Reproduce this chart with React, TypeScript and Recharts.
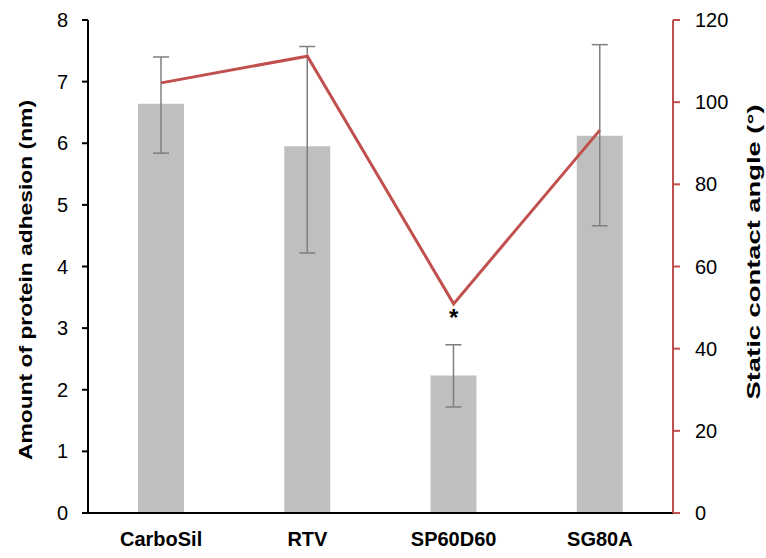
import React from 'react';
import { ComposedChart, Bar, Line, XAxis, YAxis, ErrorBar, LabelList } from 'recharts';

const categories = ['CarboSil', 'RTV', 'SP60D60', 'SG80A'];
const adhesion = [6.64, 5.95, 2.23, 6.12];
const adhesionErrLow = [0.8, 1.73, 0.51, 1.46];
const adhesionErrHigh = [0.76, 1.62, 0.5, 1.48];
const contactAngle = [104.7, 111.2, 50.9, 93.2];
const significance = ['', '', '*', ''];
const leftTicks = [0, 1, 2, 3, 4, 5, 6, 7, 8];
const rightTicks = [0, 20, 40, 60, 80, 100, 120];

const data = categories.map((name, i) => ({
  name,
  adhesion: adhesion[i],
  err: [adhesionErrLow[i], adhesionErrHigh[i]],
  angle: contactAngle[i],
  sig: significance[i],
}));

const FONT = '"Liberation Sans", Arial, sans-serif';
const RED = '#c0504d';

export default function App() {
  return (
    <div style={{ position: 'absolute', left: 0, top: 0, background: '#fff' }}>
      <ComposedChart
        width={766}
        height={558}
        data={data}
        margin={{ top: 20, right: 0, bottom: 0, left: 0 }}
        style={{ fontFamily: FONT }}
      >
        <XAxis
          dataKey="name"
          height={45}
          axisLine={{ stroke: '#000', strokeWidth: 2 }}
          tickLine={false}
          tickSize={0}
          tickMargin={19}
          tick={{ fill: '#000', fontSize: 20, fontWeight: 'bold', fontFamily: FONT }}
          interval={0}
        />
        <YAxis
          yAxisId="left"
          orientation="left"
          width={88}
          domain={[0, 8]}
          ticks={leftTicks}
          axisLine={{ stroke: '#000', strokeWidth: 2 }}
          tickLine={{ stroke: '#000', strokeWidth: 2 }}
          tickSize={6}
          tickMargin={14}
          tick={{ fill: '#000', fontSize: 20, fontFamily: FONT }}
          label={() => (
            <text
              x={32}
              y={280}
              transform="rotate(-90 32 280)"
              textAnchor="middle"
              fontSize={19}
              fontWeight="bold"
              fontFamily={FONT}
              fill="#000"
              textLength={360}
              lengthAdjust="spacingAndGlyphs"
            >
              Amount of protein adhesion (nm)
            </text>
          )}
        />
        <YAxis
          yAxisId="right"
          orientation="right"
          width={93}
          domain={[0, 120]}
          ticks={rightTicks}
          axisLine={{ stroke: RED, strokeWidth: 2 }}
          tickLine={{ stroke: RED, strokeWidth: 2 }}
          tickSize={7}
          tickMargin={15}
          tick={{ fill: '#000', fontSize: 20, fontFamily: FONT }}
          label={() => (
            <text
              x={760}
              y={252}
              transform="rotate(-90 760 252)"
              textAnchor="middle"
              fontSize={18}
              fontWeight="bold"
              fontFamily={FONT}
              fill="#000"
              textLength={295}
              lengthAdjust="spacingAndGlyphs"
            >
              Static contact angle (°)
            </text>
          )}
        />
        <Bar yAxisId="left" dataKey="adhesion" fill="#bfbfbf" barSize={46} isAnimationActive={false}>
          <ErrorBar dataKey="err" width={8} stroke="#7f7f7f" strokeWidth={1.5} />
        </Bar>
        <Line
          yAxisId="right"
          type="linear"
          dataKey="angle"
          stroke={RED}
          strokeWidth={3}
          dot={false}
          isAnimationActive={false}
        >
          <LabelList
            dataKey="sig"
            position="bottom"
            offset={5}
            fill="#000"
            fontSize={24}
            fontWeight="bold"
            fontFamily={FONT}
          />
        </Line>
      </ComposedChart>
    </div>
  );
}
